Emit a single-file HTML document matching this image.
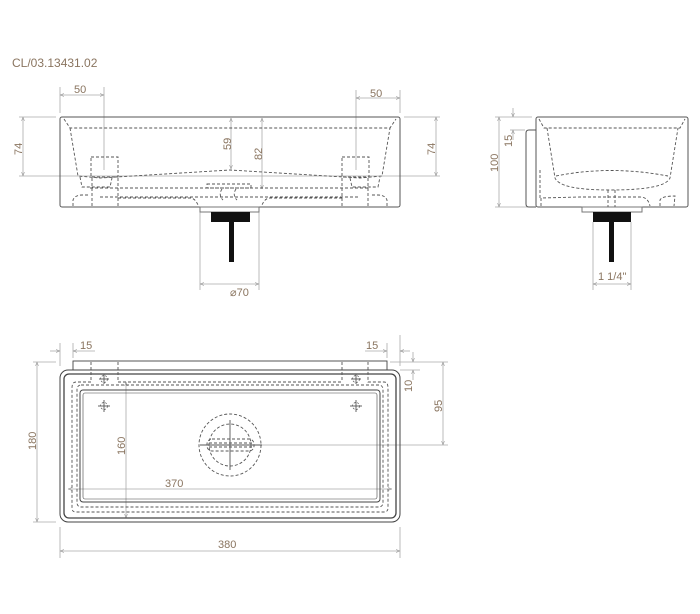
<!DOCTYPE html>
<html><head><meta charset="utf-8"><style>
html,body{margin:0;padding:0;background:#fff;}
svg{display:block;}
text{font-family:"Liberation Sans",sans-serif;font-size:11px;fill:#8a7560;}
</style></head><body>
<svg width="700" height="614" viewBox="0 0 700 614" xmlns="http://www.w3.org/2000/svg">
<defs>
<marker id="a" viewBox="0 0 6 6" refX="6" refY="3" markerWidth="5" markerHeight="5" orient="auto-start-reverse"><path d="M0,0.8 L6,3 L0,5.2" fill="none" stroke="#999" stroke-width="0.8"/></marker>
</defs>
<text x="12" y="67" style="font-size:12px">CL/03.13431.02</text>

<!-- FRONT VIEW -->
<g fill="none" stroke="#aaa" stroke-width="0.8">
<line x1="60" y1="87" x2="60" y2="113"/><line x1="104" y1="87" x2="104" y2="170"/>
<line x1="60" y1="95" x2="104" y2="95" marker-start="url(#a)" marker-end="url(#a)"/>
<line x1="356" y1="90" x2="356" y2="170"/><line x1="400" y1="90" x2="400" y2="113"/>
<line x1="356" y1="98" x2="400" y2="98" marker-start="url(#a)" marker-end="url(#a)"/>
<line x1="19" y1="117" x2="56" y2="117"/><line x1="19" y1="176" x2="440" y2="176"/>
<line x1="23" y1="117" x2="23" y2="176" marker-start="url(#a)" marker-end="url(#a)"/>
<line x1="404" y1="117" x2="440" y2="117"/>
<line x1="436" y1="117" x2="436" y2="176" marker-start="url(#a)" marker-end="url(#a)"/>
<line x1="231" y1="118" x2="231" y2="169" marker-start="url(#a)" marker-end="url(#a)"/>
<line x1="262" y1="118" x2="262" y2="189" marker-start="url(#a)" marker-end="url(#a)"/>
<line x1="200" y1="212" x2="200" y2="290"/><line x1="259" y1="212" x2="259" y2="290"/>
<line x1="200" y1="284" x2="259" y2="284" marker-start="url(#a)" marker-end="url(#a)"/>
</g>
<text x="74" y="93">50</text><text x="370" y="97">50</text>
<text x="230" y="296">⌀70</text>
<text transform="translate(22,155) rotate(-90)">74</text>
<text transform="translate(435,155) rotate(-90)">74</text>
<text transform="translate(231,150) rotate(-90)">59</text>
<text transform="translate(262,160) rotate(-90)">82</text>
<g fill="none" stroke="#555" stroke-width="1">
<rect x="60" y="117" width="340" height="90" rx="2"/>
<rect x="200" y="207" width="59" height="5" stroke="#777"/>
</g>
<rect x="211" y="212" width="39" height="10" fill="#111"/>
<rect x="229" y="222" width="5" height="40" fill="#111"/>
<g fill="none" stroke="#555" stroke-width="0.9" stroke-dasharray="3,2">
<path d="M64,119 L70,128 L390,128 L396,119"/>
<path d="M70,128 L78,176 L100,178 L230,170 L360,178 L382,176 L390,128"/>
<rect x="91" y="157" width="27" height="20"/><rect x="342" y="157" width="27" height="20"/>
<path d="M80,177 L82,187 L110,187 L112,178"/><path d="M350,178 L352,187 L378,187 L380,177"/>
<line x1="90" y1="188" x2="370" y2="188"/>
<line x1="100" y1="197" x2="240" y2="197"/><line x1="240" y1="197" x2="360" y2="197"/>
<path d="M73,206 L73,200 Q75,195 82,195 L90,195"/><path d="M387,206 L387,200 Q385,195 378,195 L370,195"/>
<line x1="92" y1="178" x2="92" y2="207"/><line x1="118" y1="178" x2="118" y2="207"/>
<line x1="342" y1="178" x2="342" y2="207"/><line x1="368" y1="178" x2="368" y2="207"/>
<path d="M118,198 L190,198 Q195,198 198,205"/><path d="M342,198 L270,198 Q265,198 262,205"/>
<rect x="207" y="184" width="44" height="4"/>
<path d="M222,189 Q218,195 223,200 M236,189 Q232,195 237,200"/>
</g>

<!-- SIDE VIEW -->
<g fill="none" stroke="#aaa" stroke-width="0.8">
<line x1="495" y1="117" x2="532" y2="117"/><line x1="495" y1="207" x2="532" y2="207"/>
<line x1="499" y1="117" x2="499" y2="207" marker-start="url(#a)" marker-end="url(#a)"/>
<line x1="510" y1="130" x2="525" y2="130"/>
<line x1="513" y1="108" x2="513" y2="117" marker-end="url(#a)"/>
<line x1="513" y1="140" x2="513" y2="130" marker-end="url(#a)"/>
<line x1="593" y1="222" x2="593" y2="290"/><line x1="631" y1="222" x2="631" y2="290"/>
<line x1="593" y1="284" x2="631" y2="284" marker-start="url(#a)" marker-end="url(#a)"/>
</g>
<text transform="translate(498,172) rotate(-90)">100</text>
<text transform="translate(512,147) rotate(-90)">15</text>
<text x="598" y="280">1 1/4"</text>
<g fill="none" stroke="#555" stroke-width="1">
<rect x="536" y="117" width="152" height="90" rx="2"/>
<path d="M536,130 L529,130 Q526,130 526,133 L526,204 Q526,207 529,207 L536,207"/>
<rect x="582" y="207" width="60" height="5" stroke="#777"/>
</g>
<rect x="593" y="212" width="38" height="10" fill="#111"/>
<rect x="609" y="222" width="5" height="40" fill="#111"/>
<g fill="none" stroke="#555" stroke-width="0.9" stroke-dasharray="3,2">
<path d="M539,119 L544,128 L680,128 L685,119"/>
<path d="M547,128 L555,178 Q560,190 610,190 Q665,190 670,178 L678,128"/>
<path d="M556,176 Q610,165 668,176"/>
<path d="M540,170 L540,200"/><path d="M541,206 L541,198 L580,197 L640,197 Q648,197 650,206"/>
<path d="M660,206 L660,200 Q662,196 675,196 Q675,196 674,206"/>
<line x1="608" y1="190" x2="608" y2="207"/><line x1="615" y1="190" x2="615" y2="207"/>
</g>

<!-- TOP VIEW -->
<g fill="none" stroke="#aaa" stroke-width="0.8">
<line x1="60" y1="343" x2="60" y2="366"/><line x1="73" y1="343" x2="73" y2="358"/>
<line x1="50" y1="351" x2="60" y2="351" marker-end="url(#a)"/>
<line x1="95" y1="351" x2="73" y2="351" marker-end="url(#a)"/>
<line x1="387" y1="343" x2="387" y2="358"/><line x1="400" y1="335" x2="400" y2="366"/>
<line x1="365" y1="351" x2="387" y2="351" marker-end="url(#a)"/>
<line x1="410" y1="351" x2="400" y2="351" marker-end="url(#a)"/>
<line x1="33" y1="362" x2="56" y2="362"/><line x1="33" y1="522" x2="56" y2="522"/>
<line x1="37" y1="362" x2="37" y2="522" marker-start="url(#a)" marker-end="url(#a)"/>
<line x1="126" y1="382" x2="126" y2="518" marker-start="url(#a)" marker-end="url(#a)"/>
<line x1="68" y1="489" x2="392" y2="489" marker-start="url(#a)" marker-end="url(#a)"/>
<line x1="60" y1="527" x2="60" y2="558"/><line x1="400" y1="527" x2="400" y2="558"/>
<line x1="60" y1="551" x2="400" y2="551" marker-start="url(#a)" marker-end="url(#a)"/>
<line x1="390" y1="362" x2="448" y2="362"/><line x1="400" y1="370" x2="420" y2="370"/>
<line x1="251" y1="445" x2="448" y2="445"/>
<line x1="443" y1="362" x2="443" y2="445" marker-start="url(#a)" marker-end="url(#a)"/>
<line x1="413" y1="352" x2="413" y2="362" marker-end="url(#a)"/>
<line x1="413" y1="380" x2="413" y2="370" marker-end="url(#a)"/>
</g>
<text x="80" y="349">15</text><text x="366" y="349">15</text>
<text transform="translate(36,450) rotate(-90)">180</text>
<text transform="translate(125,455) rotate(-90)">160</text>
<text x="165" y="487">370</text>
<text x="218" y="548">380</text>
<text transform="translate(442,412) rotate(-90)">95</text>
<text transform="translate(412,392) rotate(-90)">10</text>
<g fill="none" stroke="#444" stroke-width="1">
<rect x="60" y="370" width="340" height="152" rx="8"/>
<rect x="64" y="374" width="332" height="144" rx="5" stroke-width="1.3"/>
<rect x="73" y="361" width="314" height="9" stroke-width="0.9"/>
<rect x="80" y="390" width="300" height="112" rx="3"/>
<rect x="83" y="393" width="294" height="106" rx="2" stroke-width="0.6"/>
</g>
<g fill="none" stroke="#555" stroke-width="0.9" stroke-dasharray="3,2">
<path d="M91,362 L91,382 L76,382 Q72,382 72,388 L72,508 Q72,512 76,512 L384,512 Q388,512 388,508 L388,388 Q388,382 384,382 L368,382 L368,362"/>
<line x1="118" y1="362" x2="118" y2="382"/><line x1="342" y1="362" x2="342" y2="382"/>
<line x1="118" y1="382" x2="342" y2="382"/>
<rect x="77" y="385" width="306" height="122" rx="4"/>
<circle cx="230" cy="445" r="31"/><circle cx="230" cy="445" r="21"/>
<rect x="207" y="439" width="47" height="12" rx="5"/>
<line x1="209" y1="443" x2="252" y2="443"/><line x1="209" y1="447" x2="252" y2="447"/>
</g>
<g stroke="#555" stroke-width="0.9" fill="none">
<line x1="230" y1="420" x2="230" y2="470"/><line x1="200" y1="445" x2="262" y2="445"/>
<line x1="104" y1="374" x2="104" y2="384"/><line x1="99" y1="379" x2="109" y2="379"/>
<line x1="356" y1="374" x2="356" y2="384"/><line x1="351" y1="379" x2="361" y2="379"/>
<line x1="104" y1="400" x2="104" y2="412"/><line x1="98" y1="406" x2="110" y2="406"/>
<line x1="356" y1="400" x2="356" y2="412"/><line x1="350" y1="406" x2="362" y2="406"/>
</g>
<g fill="none" stroke="#555" stroke-width="0.7" stroke-dasharray="2,1.5">
<circle cx="104" cy="379" r="3.5"/><circle cx="356" cy="379" r="3.5"/>
<circle cx="104" cy="406" r="3.5"/><circle cx="356" cy="406" r="3.5"/>
</g>
</svg>
</body></html>
